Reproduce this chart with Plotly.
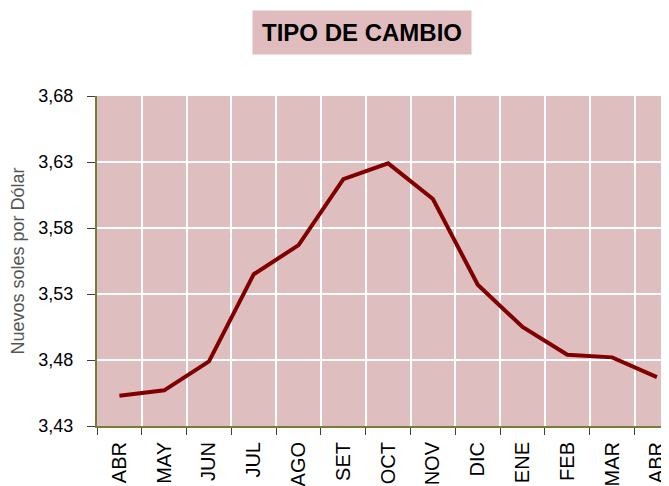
import plotly.graph_objects as go

meses = ["ABR", "MAY", "JUN", "JUL", "AGO", "SET", "OCT", "NOV", "DIC", "ENE", "FEB", "MAR", "ABR"]
tipo_cambio = [3.453, 3.457, 3.479, 3.545, 3.567, 3.617, 3.629, 3.602, 3.537, 3.505, 3.484, 3.482, 3.467]
y_ticks = [3.43, 3.48, 3.53, 3.58, 3.63, 3.68]

x_pos = list(range(len(meses)))
bounds = [i - 0.5 for i in range(len(meses) + 1)]

font_family = "Arial, Liberation Sans, sans-serif"

fig = go.Figure()
fig.add_trace(go.Scatter(
    x=x_pos, y=tipo_cambio, mode="lines",
    line=dict(color="#800000", width=4),
    hoverinfo="skip", showlegend=False,
))

fig.update_layout(
    width=661, height=478,
    margin=dict(l=89, r=0, t=88, b=60, autoexpand=False),
    paper_bgcolor="white",
    plot_bgcolor="#DFBEC0",
    separators=",.",
    font=dict(family=font_family, color="black"),
    xaxis=dict(
        range=[-0.5, 12.27], automargin=False,
        tickmode="array", tickvals=x_pos, ticktext=meses,
        ticks="", showgrid=False, zeroline=False,
        tickangle=-90,
        tickfont=dict(size=20, color="black"),
        ticklabelstandoff=6,
        showline=True, linecolor="#7A7A3A", linewidth=2,
        minor=dict(tickmode="array", tickvals=bounds, ticks="outside",
                   ticklen=7, tickcolor="#404040", tickwidth=1,
                   showgrid=True, gridcolor="white", gridwidth=1.5),
    ),
    xaxis2=dict(
        overlaying="x", side="top", range=[-0.5, 12.27], automargin=False,
        showline=True, linecolor="#F3E8A0", linewidth=2,
        showticklabels=False, ticks="", showgrid=False, zeroline=False,
    ),
    yaxis=dict(
        range=[3.43, 3.68], automargin=False,
        tickmode="array", tickvals=y_ticks, tickformat=".2f",
        ticks="outside", ticklen=8, tickcolor="#404040",
        tickfont=dict(size=18, color="black"),
        ticklabelstandoff=10,
        showgrid=True, gridcolor="white", gridwidth=1.5,
        zeroline=False,
        showline=True, linecolor="#7A7A3A", linewidth=2,
        title=dict(text="Nuevos soles por Dólar",
                   font=dict(size=18, color="#555555"), standoff=18),
    ),
    annotations=[dict(
        text="<b>TIPO DE CAMBIO</b>",
        xref="paper", yref="paper", x=0.4633, y=1.1918,
        xanchor="center", yanchor="middle",
        showarrow=False, width=218, height=43, borderpad=0,
        bgcolor="#E0BCBF",
        font=dict(size=24, color="black", family=font_family),
    )],
)

fig.write_html("out.html")
